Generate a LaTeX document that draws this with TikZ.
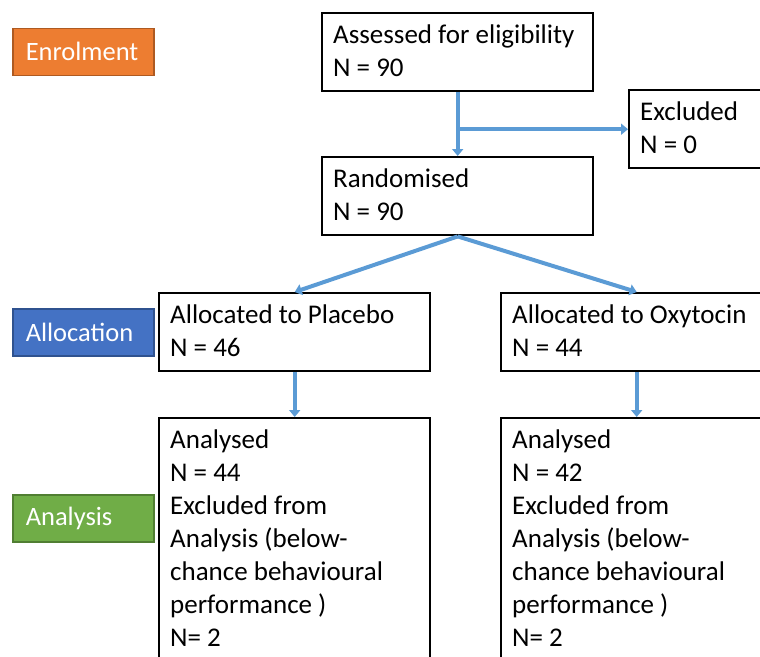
\documentclass[tikz,border=0pt]{standalone}
\usepackage{fontspec}
\setmainfont{Carlito}
\usetikzlibrary{arrows.meta}
\definecolor{arrowblue}{HTML}{5B9BD5}
\definecolor{enrolfill}{HTML}{ED7D31}
\definecolor{enroldraw}{HTML}{AE5A21}
\definecolor{allocfill}{HTML}{4472C4}
\definecolor{allocdraw}{HTML}{2F528F}
\definecolor{anafill}{HTML}{70AD47}
\definecolor{anadraw}{HTML}{507E32}
\newcommand{\firstline}{\rule{0pt}{20pt}}
\begin{document}
\begin{tikzpicture}[x=1pt,y=1pt,
  box/.style={draw=black, line width=2.4pt, rectangle, inner sep=0pt, anchor=north west, minimum width=271pt},
  txt/.style={align=left, anchor=north west, inner sep=0pt, font=\fontsize{27}{33}\selectfont},
  flow/.style={draw=arrowblue, line width=4pt, -{Triangle[width=11pt,length=7pt]}},
  stage/.style={rectangle, line width=1.5pt, minimum height=47pt, text width=115pt, inner xsep=13pt, inner ysep=0pt,
    align=left, anchor=north west, text=white, font=\fontsize{26.5}{31}\selectfont}]
\useasboundingbox (0,0) rectangle (760,-656);
\clip (0,0) rectangle (760,-656);

% stage labels
\node[stage, fill=enrolfill, draw=enroldraw] (enrol) at (12,-27.5) {Enrolment};
\node[stage, fill=allocfill, draw=allocdraw] (alloc) at (12,-308) {Allocation};
\node[stage, fill=anafill, draw=anadraw] (anal) at (12,-494) {Analysis};

% boxes
\node[box, minimum height=78pt] (assess) at (321,-12) {};
\node[txt] (assesstxt) at ([xshift=12pt,yshift=-11pt]assess.north west) {\firstline Assessed for eligibility\\N = 90};

\node[box, minimum height=78pt, minimum width=200pt] (excl) at (628,-89) {};
\node[txt] (excltxt) at ([xshift=12pt,yshift=-11pt]excl.north west) {\firstline Excluded\\N = 0};

\node[box, minimum height=78pt] (rand) at (321,-156) {};
\node[txt] (randtxt) at ([xshift=12pt,yshift=-11pt]rand.north west) {\firstline Randomised\\N = 90};

\node[box, minimum height=78pt] (plac) at (158,-292) {};
\node[txt] (plactxt) at ([xshift=12pt,yshift=-11pt]plac.north west) {\firstline Allocated to Placebo\\N = 46};

\node[box, minimum height=78pt] (oxy) at (500,-292) {};
\node[txt] (oxytxt) at ([xshift=12pt,yshift=-11pt]oxy.north west) {\firstline Allocated to Oxytocin\\N = 44};

\node[box, minimum height=280pt] (anplac) at (158,-417) {};
\node[txt] (anplactxt) at ([xshift=12pt,yshift=-11pt]anplac.north west)
  {\firstline Analysed\\N = 44\\Excluded from\\Analysis (below-\\chance behavioural\\performance )\\N= 2};

\node[box, minimum height=280pt] (anoxy) at (500,-417) {};
\node[txt] (anoxytxt) at ([xshift=12pt,yshift=-11pt]anoxy.north west)
  {\firstline Analysed\\N = 42\\Excluded from\\Analysis (below-\\chance behavioural\\performance )\\N= 2};

% connectors
\draw[flow] (assess.south) -- (rand.north);
\draw[flow] (assess.south |- excl.west) -- (excl.west);
\draw[flow] (rand.south) -- (plac.north);
\draw[flow] (rand.south) -- (oxy.north);
\draw[flow] (plac.south) -- (anplac.north);
\draw[flow] (oxy.south) -- (anoxy.north);
\end{tikzpicture}
\end{document}
